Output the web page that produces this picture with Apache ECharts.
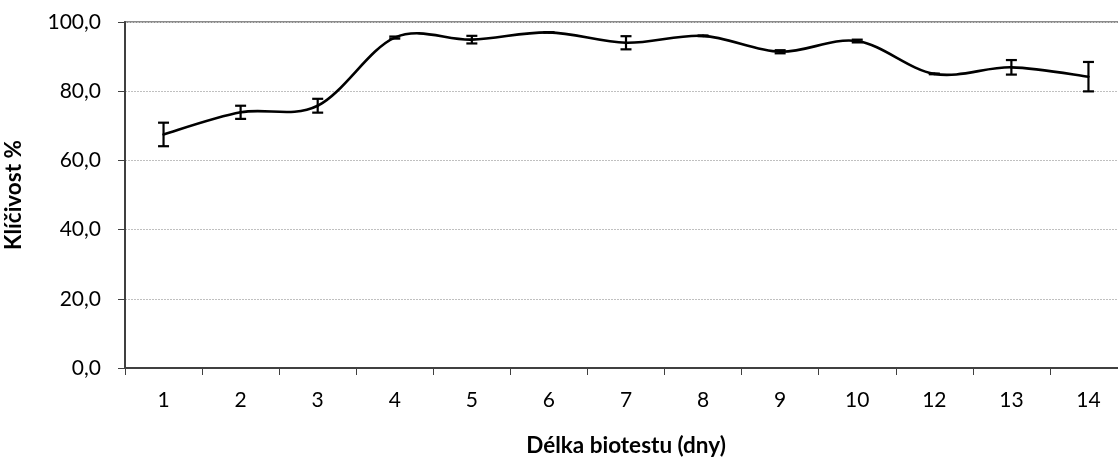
<!DOCTYPE html>
<html>
<head>
<meta charset="utf-8">
<script src="https://cdn.jsdelivr.net/npm/echarts@6/dist/echarts.min.js"></script>
<style>
  html, body { margin: 0; padding: 0; background: #fff; }
  #chart { width: 1118px; height: 458px; }
</style>
</head>
<body>
<div id="chart"></div>
<script>
// Test duration in days (day 11 was not measured)
var days = ['1', '2', '3', '4', '5', '6', '7', '8', '9', '10', '12', '13', '14'];
// Mean germination (%) per day
var germination = [67.5, 73.9, 75.8, 95.5, 94.9, 97.0, 94.0, 96.0, 91.4, 94.5, 85.0, 86.9, 84.2];
// Error (± %) per day
var errorMargin = [3.4, 1.9, 2.0, 0.3, 1.1, 0.0, 1.9, 0.1, 0.45, 0.4, 0.1, 2.1, 4.25];
// Value axis ticks
var yTicks = [0, 20, 40, 60, 80, 100];

var FONT = 'Lato';
var FONT_SIZE = 21;
var TITLE_SIZE = 22.5;

var chart = echarts.init(document.getElementById('chart'), null, { renderer: 'canvas' });

function fmt(v) { return v.toFixed(1).replace('.', ','); }

var lineData = days.map(function (d, i) { return [i, germination[i]]; });
var errData = days.map(function (d, i) { return [i, germination[i], errorMargin[i]]; });

// Smoothed curve: one cubic Bézier per segment, Catmull-Rom style control points
function renderCurve(params, api) {
  var n = germination.length;
  var i = params.dataIndex;
  if (i >= n - 1) return null;
  function pt(k) {
    k = Math.max(0, Math.min(n - 1, k));
    return api.coord([k, germination[k]]);
  }
  var p0 = pt(i - 1), p1 = pt(i), p2 = pt(i + 1), p3 = pt(i + 2);
  var t = 1 / 6;
  return {
    type: 'bezierCurve',
    shape: {
      x1: p1[0], y1: p1[1],
      x2: p2[0], y2: p2[1],
      cpx1: p1[0] + (p2[0] - p0[0]) * t, cpy1: p1[1] + (p2[1] - p0[1]) * t,
      cpx2: p2[0] - (p3[0] - p1[0]) * t, cpy2: p2[1] - (p3[1] - p1[1]) * t
    },
    style: { stroke: '#000', lineWidth: 2.6, fill: null, lineCap: 'round' }
  };
}

// Error bars with short caps
function renderError(params, api) {
  var idx = api.value(0), m = api.value(1), e = api.value(2);
  var hi = api.coord([idx, m + e]);
  var lo = api.coord([idx, m - e]);
  var hw = 5.5;
  var st = { stroke: '#000', lineWidth: 2.2 };
  return {
    type: 'group',
    children: [
      { type: 'line', shape: { x1: hi[0], y1: hi[1], x2: lo[0], y2: lo[1] }, style: st },
      { type: 'line', shape: { x1: hi[0] - hw, y1: hi[1], x2: hi[0] + hw, y2: hi[1] }, style: st },
      { type: 'line', shape: { x1: lo[0] - hw, y1: lo[1], x2: lo[0] + hw, y2: lo[1] }, style: st }
    ]
  };
}

chart.setOption({
  animation: false,
  backgroundColor: '#ffffff',
  grid: {
    left: 125, top: 22, bottom: 90, right: -9,
    outerBoundsMode: 'none',
    containLabel: false,
    show: true, borderColor: '#8c8c8c', borderWidth: 2, backgroundColor: 'transparent'
  },
  xAxis: {
    type: 'category',
    data: days,
    boundaryGap: true,
    name: 'Délka biotestu (dny)',
    nameLocation: 'middle',
    nameGap: 66,
    nameTextStyle: { fontFamily: FONT, fontWeight: 'bold', fontSize: TITLE_SIZE, color: '#000' },
    axisLine: { lineStyle: { color: '#404040', width: 2 } },
    axisTick: { show: true, length: 7, lineStyle: { color: '#404040', width: 1 } },
    axisLabel: { margin: 22, fontFamily: FONT, fontSize: FONT_SIZE, color: '#000' },
    splitLine: { show: false }
  },
  yAxis: {
    type: 'value',
    min: yTicks[0],
    max: yTicks[yTicks.length - 1],
    interval: yTicks[1] - yTicks[0],
    name: 'Klíčivost %',
    nameLocation: 'middle',
    nameGap: 100,
    nameRotate: 90,
    nameTextStyle: { fontFamily: FONT, fontWeight: 'bold', fontSize: TITLE_SIZE, color: '#000' },
    axisLine: { show: true, lineStyle: { color: '#404040', width: 2 } },
    axisTick: { show: true, length: 7, lineStyle: { color: '#404040', width: 1 } },
    axisLabel: { margin: 24, fontFamily: FONT, fontSize: FONT_SIZE, color: '#000', formatter: fmt },
    splitLine: { show: true, lineStyle: { color: '#c0c0c0', width: 1, type: [2, 1] } }
  },
  series: [
    {
      name: 'Klíčivost',
      type: 'custom',
      data: lineData,
      encode: { x: 0, y: 1 },
      z: 3,
      renderItem: renderCurve
    },
    {
      name: 'Chyba',
      type: 'custom',
      data: errData,
      encode: { x: 0, y: 1 },
      z: 4,
      renderItem: renderError
    }
  ]
});
</script>
</body>
</html>
